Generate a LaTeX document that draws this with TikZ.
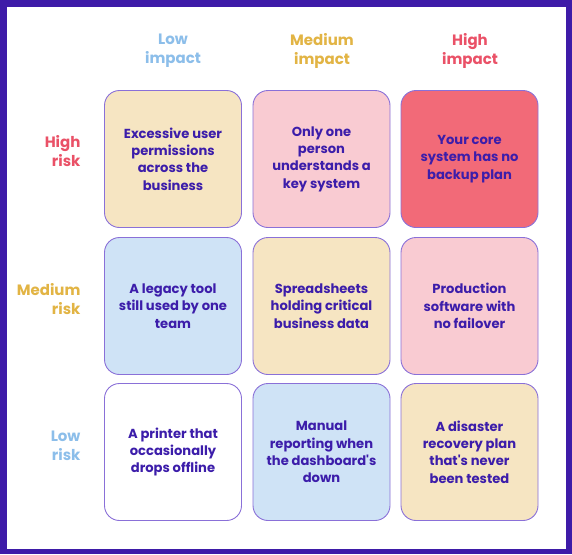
\documentclass[tikz,border=0pt]{standalone}
\usepackage{fontspec}
\setmainfont{Poppins}[Ligatures=TeXOff]
\definecolor{frame}{HTML}{3E1BA8}
\definecolor{txt}{HTML}{3C1DAA}
\definecolor{edge}{HTML}{8A70D8}
\definecolor{cyellow}{HTML}{F6E5C2}
\definecolor{cpink}{HTML}{F9CBD2}
\definecolor{cred}{HTML}{F26A78}
\definecolor{cblue}{HTML}{CFE3F6}
\definecolor{hblue}{HTML}{8CBEEA}
\definecolor{hgold}{HTML}{E2B444}
\definecolor{hred}{HTML}{EA5167}
\tikzset{
  cell/.style={draw=edge, line width=0.9pt, rounded corners=15pt, minimum width=137pt, minimum height=137pt, align=center, text=txt, font=\fontsize{13.1}{17.4}\selectfont\bfseries},
  head/.style={align=center, font=\fontsize{15}{19}\selectfont\bfseries},
  rowlab/.style={align=right, anchor=east, font=\fontsize{15}{19}\selectfont\bfseries}
}
\begin{document}
\begin{tikzpicture}[x=1pt,y=-1pt]
\fill[frame] (0,0) rectangle (572,554);
\fill[white] (7,7) rectangle (566,549);
\useasboundingbox (0,0) rectangle (572,554);
% headers
\node[head, text=hblue] (h1) at (173,50.5) {Low\\impact};
\node[head, text=hgold] (h2) at (322,50.5) {Medium\\impact};
\node[head, text=hred] (h3) at (470,50.5) {High\\impact};
\node[rowlab, text=hred] (r1) at (84,151.5) {High\\risk};
\node[rowlab, text=hgold] (r2) at (84,299.5) {Medium\\risk};
\node[rowlab, text=hblue] (r3) at (84,445.5) {Low\\risk};
% cells
\node[cell, fill=cyellow] (c11) at (173,159) {Excessive user\\permissions\\across the\\business};
\node[cell, fill=cpink] (c12) at (321.5,159) {Only one\\person\\understands a\\key system};
\node[cell, fill=cred] (c13) at (469.5,159) {Your core\\system has no\\backup plan};
\node[cell, fill=cblue] (c21) at (173,306) {A legacy tool\\still used by one\\team};
\node[cell, fill=cyellow] (c22) at (321.5,306) {Spreadsheets\\holding critical\\business data};
\node[cell, fill=cpink] (c23) at (469.5,306) {Production\\software with\\no failover};
\node[cell, fill=white] (c31) at (173,452) {A printer that\\occasionally\\drops offline};
\node[cell, fill=cblue] (c32) at (321.5,452) {Manual\\reporting when\\the dashboard's\\down};
\node[cell, fill=cyellow] (c33) at (469.5,452) {A disaster\\recovery plan\\that's never\\been tested};
\end{tikzpicture}
\end{document}
